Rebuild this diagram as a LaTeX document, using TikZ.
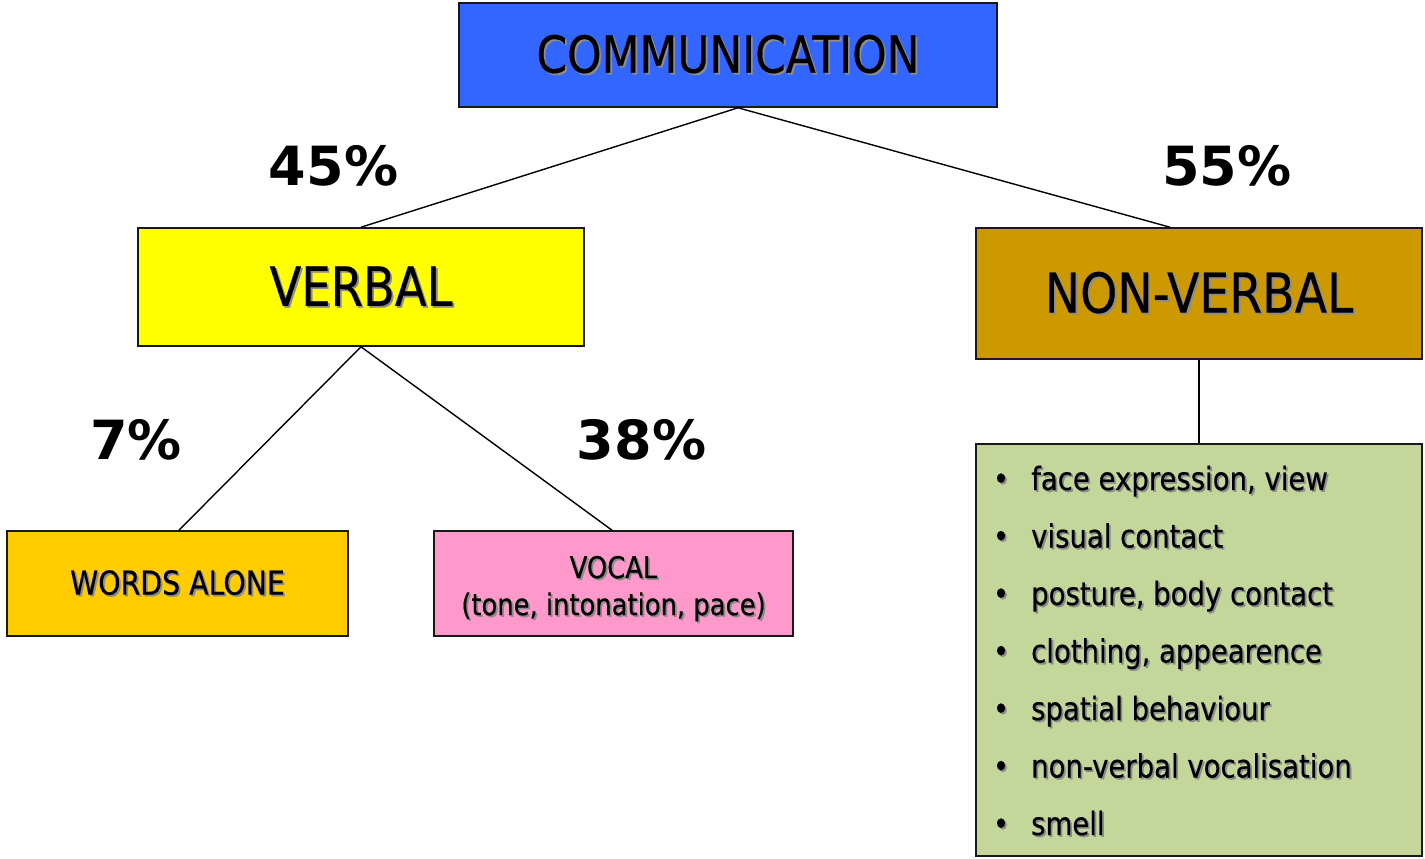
\documentclass[tikz,border=0pt]{standalone}
\usepackage{fontspec}
\setmainfont{DejaVu Sans}[FakeStretch=0.86, FakeBold=0.35]
\newfontfamily\pctfont{DejaVu Sans}
\usetikzlibrary{calc}
% text with a soft grey drop shadow
\newcommand{\shd}[1]{\leavevmode\rlap{\kern1.8pt\raisebox{-1.8pt}{\textcolor{black!45}{#1}}}#1}
\definecolor{commblue}{HTML}{3366FF}
\definecolor{verbyellow}{HTML}{FFFF00}
\definecolor{nvbrown}{HTML}{CC9900}
\definecolor{wordsgold}{HTML}{FFCC00}
\definecolor{vocalpink}{HTML}{FF99CC}
\definecolor{listgreen}{HTML}{C4D79B}
\tikzset{
  box/.style={draw=black!90, line width=1.6pt, inner sep=0pt, align=center, text=black},
  link/.style={draw=black, line width=1.4pt},
  pct/.style={font=\pctfont\bfseries\fontsize{54}{60}\selectfont, inner sep=0pt},
  item/.style={font=\fontsize{32}{38}\selectfont, inner sep=0pt, anchor=base west},
  dot/.style={font=\fontsize{32}{38}\selectfont, inner sep=0pt, anchor=base},
}
\begin{document}
\begin{tikzpicture}[x=1pt, y=-1pt]
\useasboundingbox (0,0) rectangle (1425,859);

% boxes
\node[box, fill=commblue, minimum width=538pt, minimum height=104pt,
      font=\fontsize{51}{60}\selectfont] (comm) at (728,55) {\shd{COMMUNICATION}};
\node[box, fill=verbyellow, minimum width=446pt, minimum height=118pt,
      font=\fontsize{54}{62}\selectfont] (verbal) at (361,287) {\shd{VERBAL}};
\node[box, fill=nvbrown, minimum width=446pt, minimum height=131pt,
      font=\fontsize{55}{62}\selectfont] (nonverbal) at (1199,293.5) {\shd{NON-VERBAL}};
\node[box, fill=wordsgold, minimum width=341pt, minimum height=105pt,
      font=\fontsize{33}{38}\selectfont] (words) at (177.5,583.5) {\shd{WORDS ALONE}};
\node[box, fill=vocalpink, minimum width=359pt, minimum height=105pt] (vocal) at (613.5,583.5) {};
\node[align=center, inner sep=0pt, font=\fontsize{30}{37}\selectfont]
  (vocaltext) at ([yshift=-6pt]vocal.center) {\shd{VOCAL}\\\shd{(tone, intonation, pace)}};
\node[box, fill=listgreen, minimum width=446pt, minimum height=412pt] (list) at (1199,650) {};

% list entries
\foreach \txt [count=\i] in {{face expression, view}, {visual contact},
    {posture, body contact}, {clothing, appearence}, {spatial behaviour},
    {non-verbal vocalisation}, {smell}} {
  \node[dot] (d\i) at (1001, 490+57.5*\i-57.5) {\shd{•}};
  \node[item] (t\i) at (1031, 490+57.5*\i-57.5) {\shd{\txt}};
}

% connectors
\draw[link] ([xshift=10pt]comm.south) -- (verbal.north);
\draw[link] ([xshift=10pt]comm.south) -- ([xshift=-29pt]nonverbal.north);
\draw[link] (verbal.south) -- ([xshift=1.5pt]words.north);
\draw[link] (verbal.south) -- ([xshift=-1.5pt]vocal.north);
\draw[link] (nonverbal.south) -- (list.north);

% shares
\node[pct] (p45) at (333.5,166) {45\%};
\node[pct] (p55) at (1227,166) {55\%};
\node[pct] (p7) at (136,440) {7\%};
\node[pct] (p38) at (641.5,440) {38\%};
\end{tikzpicture}
\end{document}
